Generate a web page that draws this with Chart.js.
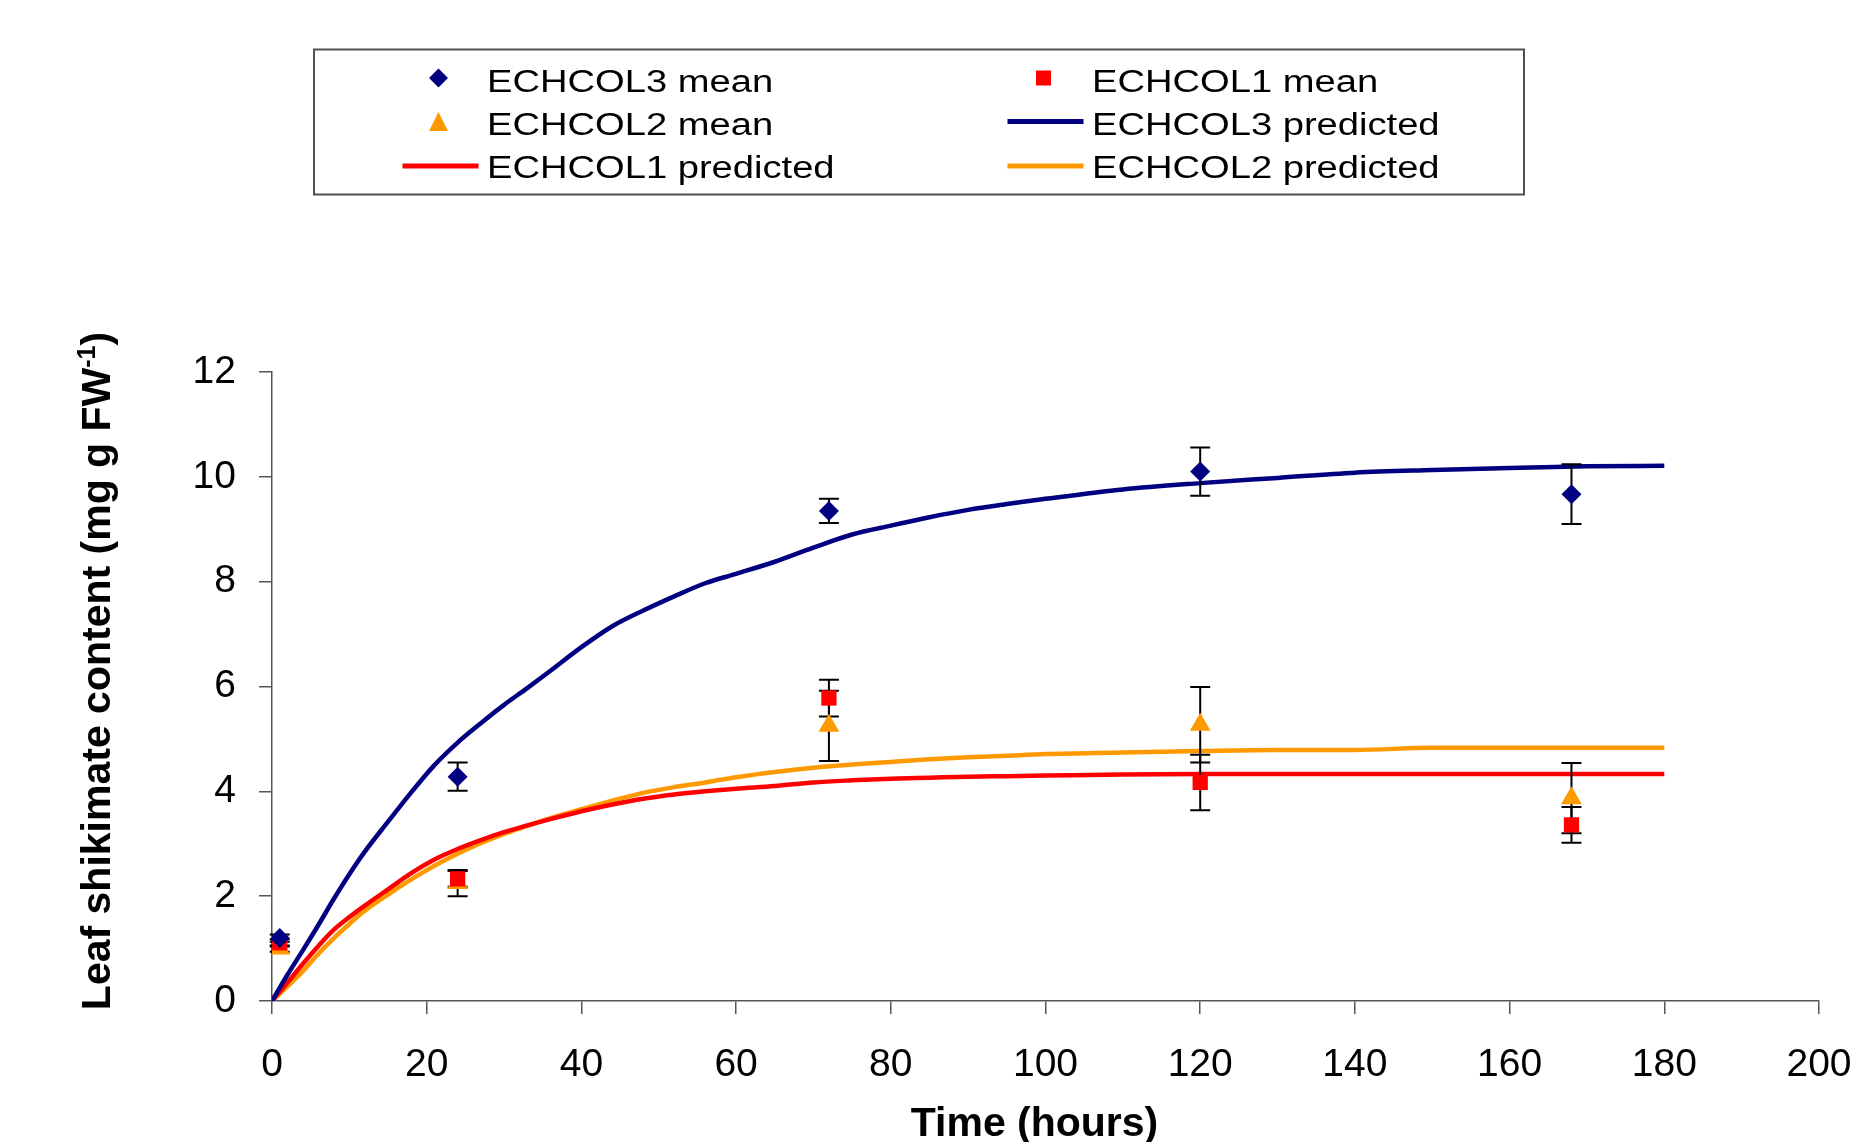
<!DOCTYPE html>
<html>
<head>
<meta charset="utf-8">
<title>Leaf shikimate content</title>
<script src="https://cdn.jsdelivr.net/npm/chart.js@4.4.1/dist/chart.umd.min.js"></script>
<style>
  html, body { margin: 0; padding: 0; background: #fff; }
  canvas { display: block; }
</style>
</head>
<body>
<canvas id="shikimateChart" width="1854" height="1142"></canvas>
<script>
// measured means (hours after spraying) with standard errors
const sampleTimes = [1, 24, 72, 120, 168];
const echcol3Mean = [1.2, 4.28, 9.35, 10.1, 9.67];
const echcol3Err = [0.07, 0.27, 0.23, 0.46, 0.57];
const echcol1Mean = [1.11, 2.33, 5.78, 4.17, 3.36];
const echcol1Err = [0.07, 0.15, 0.35, 0.53, 0.34];
const echcol2Mean = [1.0, 2.25, 5.25, 5.27, 3.87];
const echcol2Err = [0.06, 0.25, 0.67, 0.72, 0.67];

// model curves
const predTimes = [0, 2, 4, 6, 8, 10, 12, 15, 18, 21, 24, 27, 30, 33, 36, 40, 44, 48, 52, 56,
  60, 65, 70, 75, 80, 85, 90, 95, 100, 110, 120, 130, 140, 150, 160, 170, 180];
const echcol3Pred = [0, 0.5, 0.97, 1.45, 1.95, 2.42, 2.85, 3.42, 3.98, 4.5, 4.93, 5.3, 5.65, 5.97, 6.3, 6.75, 7.15, 7.45, 7.72, 7.97,
  8.15, 8.38, 8.65, 8.9, 9.07, 9.23, 9.37, 9.48, 9.58, 9.76, 9.88, 9.98, 10.08, 10.13, 10.17, 10.2, 10.21];
const echcol1Pred = [0, 0.35, 0.71, 1.05, 1.36, 1.6, 1.82, 2.13, 2.44, 2.7, 2.9, 3.07, 3.22, 3.35, 3.47, 3.62, 3.75, 3.86, 3.94, 4.0,
  4.05, 4.1, 4.17, 4.21, 4.24, 4.26, 4.28, 4.29, 4.3, 4.32, 4.33, 4.33, 4.33, 4.33, 4.33, 4.33, 4.33];
const echcol2Pred = [0, 0.28, 0.57, 0.9, 1.2, 1.47, 1.72, 2.03, 2.32, 2.58, 2.81, 3.01, 3.19, 3.34, 3.49, 3.66, 3.82, 3.97, 4.08, 4.17,
  4.27, 4.37, 4.45, 4.51, 4.56, 4.61, 4.65, 4.68, 4.71, 4.74, 4.77, 4.79, 4.79, 4.83, 4.83, 4.83, 4.83];

const xTickValues = [0, 20, 40, 60, 80, 100, 120, 140, 160, 180, 200];
const yTickValues = [0, 2, 4, 6, 8, 10, 12];

const NAVY = '#000080';
const RED = '#FF0000';
const ORANGE = '#FF9900';
const AXIS = '#555555';
const FONT = '"Liberation Sans", Arial, sans-serif';

Chart.defaults.font.family = FONT;
Chart.defaults.color = '#000';

const toPoints = (xs, ys) => xs.map((x, i) => ({ x: x, y: ys[i] }));

function meanSet(label, ys, errs, color, style, radius) {
  return {
    label: label,
    data: toPoints(sampleTimes, ys),
    errorBars: errs,
    showLine: false,
    pointStyle: style,
    pointRadius: radius,
    pointHoverRadius: radius,
    pointBorderWidth: 0,
    backgroundColor: color,
    borderColor: color
  };
}

function predSet(label, ys, color) {
  return {
    label: label,
    data: toPoints(predTimes, ys),
    showLine: true,
    pointRadius: 0,
    borderWidth: 4.5,
    borderJoinStyle: 'round',
    cubicInterpolationMode: 'monotone',
    borderColor: color,
    backgroundColor: color
  };
}

function drawMarker(ctx, style, cx, cy, color) {
  ctx.fillStyle = color;
  ctx.beginPath();
  if (style === 'rectRot') {
    ctx.moveTo(cx, cy - 9.5);
    ctx.lineTo(cx + 9.5, cy);
    ctx.lineTo(cx, cy + 9.5);
    ctx.lineTo(cx - 9.5, cy);
  } else if (style === 'rect') {
    ctx.rect(cx - 7.5, cy - 7.5, 15, 15);
  } else {
    ctx.moveTo(cx, cy - 9.5);
    ctx.lineTo(cx + 9.5, cy + 9.5);
    ctx.lineTo(cx - 9.5, cy + 9.5);
  }
  ctx.closePath();
  ctx.fill();
}

// error bars sit above the model curves but under the markers
const errorBarPlugin = {
  id: 'errorBars',
  beforeDatasetDraw(chart, args) {
    if (args.index !== 2) return;
    const ctx = chart.ctx;
    const x = chart.scales.x, y = chart.scales.y;
    ctx.save();
    ctx.strokeStyle = '#000';
    ctx.lineWidth = 2;
    chart.data.datasets.forEach(ds => {
      if (!ds.errorBars) return;
      ds.data.forEach((p, i) => {
        const e = ds.errorBars[i];
        const px = x.getPixelForValue(p.x);
        const top = y.getPixelForValue(p.y + e);
        const bot = y.getPixelForValue(p.y - e);
        ctx.beginPath();
        ctx.moveTo(px, top); ctx.lineTo(px, bot);
        ctx.moveTo(px - 10, top); ctx.lineTo(px + 10, top);
        ctx.moveTo(px - 10, bot); ctx.lineTo(px + 10, bot);
        ctx.stroke();
      });
    });
    ctx.restore();
  }
};

// boxed two-column legend + axis titles (y title needs a superscript)
const boxLegendPlugin = {
  id: 'boxLegend',
  afterDraw(chart) {
    const ctx = chart.ctx;
    ctx.save();
    ctx.strokeStyle = '#505050';
    ctx.lineWidth = 2;
    ctx.strokeRect(314, 49.5, 1210, 145);

    const colX = [438.5, 1043.5];
    const markY = [78, 121.5, 166];
    const baseY = [91.7, 135, 178.3];
    chart.data.datasets.forEach((ds, i) => {
      const cx = colX[i % 2];
      const row = Math.floor(i / 2);
      if (ds.showLine) {
        ctx.strokeStyle = ds.borderColor;
        ctx.lineWidth = 5;
        ctx.beginPath();
        ctx.moveTo(cx - 36, markY[row]);
        ctx.lineTo(cx + 40, markY[row]);
        ctx.stroke();
      } else {
        drawMarker(ctx, ds.pointStyle, cx, markY[row], ds.backgroundColor);
      }
      ctx.save();
      ctx.translate(cx + 48.5, baseY[row]);
      ctx.scale(1.23, 1);
      ctx.fillStyle = '#000';
      ctx.font = '31px ' + FONT;
      ctx.textBaseline = 'alphabetic';
      ctx.fillText(ds.label, 0, 0);
      ctx.restore();
    });

    const big = 'bold 41px ' + FONT;
    const small = 'bold 25px ' + FONT;
    ctx.fillStyle = '#000';
    ctx.textBaseline = 'alphabetic';

    ctx.font = big;
    ctx.textAlign = 'center';
    ctx.fillText('Time (hours)', 1034.5, 1136);
    ctx.textAlign = 'left';

    const main = 'Leaf shikimate content (mg g FW';
    const sup = '-1';
    const close = ')';
    ctx.translate(110, 671);
    ctx.rotate(-Math.PI / 2);
    ctx.font = big;
    const wMain = ctx.measureText(main).width;
    const wClose = ctx.measureText(close).width;
    ctx.font = small;
    const wSup = ctx.measureText(sup).width;
    let x0 = -(wMain + wSup + wClose) / 2;
    ctx.font = big;
    ctx.fillText(main, x0, 0);
    ctx.font = small;
    ctx.fillText(sup, x0 + wMain, -15);
    ctx.font = big;
    ctx.fillText(close, x0 + wMain + wSup, 0);
    ctx.restore();
  }
};

const ctx = document.getElementById('shikimateChart').getContext('2d');
new Chart(ctx, {
  type: 'scatter',
  data: {
    datasets: [
      meanSet('ECHCOL3 mean', echcol3Mean, echcol3Err, NAVY, 'rectRot', 10),
      meanSet('ECHCOL1 mean', echcol1Mean, echcol1Err, RED, 'rect', 10.8),
      meanSet('ECHCOL2 mean', echcol2Mean, echcol2Err, ORANGE, 'triangle', 12),
      predSet('ECHCOL3 predicted', echcol3Pred, NAVY),
      predSet('ECHCOL1 predicted', echcol1Pred, RED),
      predSet('ECHCOL2 predicted', echcol2Pred, ORANGE)
    ]
  },
  options: {
    responsive: false,
    animation: false,
    devicePixelRatio: 1,
    layout: { padding: { top: 372, right: 35, bottom: 0, left: 0 } },
    plugins: {
      legend: { display: false },
      tooltip: { enabled: false }
    },
    scales: {
      x: {
        type: 'linear',
        min: 0,
        max: 200,
        afterBuildTicks: s => { s.ticks = xTickValues.map(v => ({ value: v })); },
        afterFit: s => {
          s.height = 141;
          // label overhang on the right is already covered by the layout padding
          s.paddingRight = 30;
          s.paddingLeft = 0;
        },
        ticks: { font: { size: 39 }, color: '#000', padding: 28, maxRotation: 0 },
        grid: { drawOnChartArea: false, drawTicks: true, tickLength: 13, color: AXIS, lineWidth: 1.5 },
        border: { color: AXIS, width: 1.5 }
      },
      y: {
        type: 'linear',
        min: 0,
        max: 12,
        afterBuildTicks: s => { s.ticks = yTickValues.map(v => ({ value: v })); },
        afterFit: s => { s.width = 272; },
        ticks: { font: { size: 39 }, color: '#000', padding: 23 },
        grid: { drawOnChartArea: false, drawTicks: true, tickLength: 13, color: AXIS, lineWidth: 1.5 },
        border: { color: AXIS, width: 1.5 }
      }
    }
  },
  plugins: [errorBarPlugin, boxLegendPlugin]
});
</script>
</body>
</html>
